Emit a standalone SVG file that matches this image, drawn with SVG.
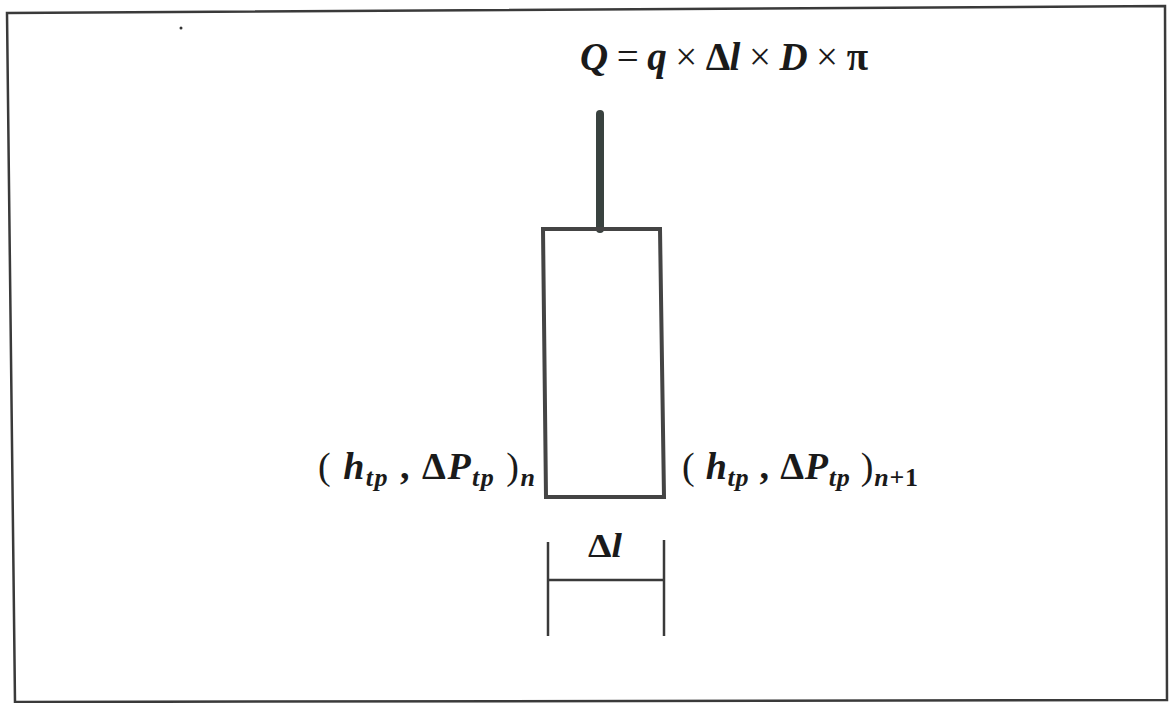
<svg xmlns="http://www.w3.org/2000/svg" width="1174" height="703" viewBox="0 0 1174 703">
<style>
.t{font-family:"Liberation Serif","Times New Roman",serif;fill:#1a1a1a;font-weight:bold}
.i{font-style:italic}
.r{font-weight:normal}
.line{stroke:#3a3a3a;fill:none}
</style>
<rect width="1174" height="703" fill="#ffffff"/>
<g id="frame">
<polygon points="7,13 1165,6 1167,700 15,702" class="line" stroke-width="2.5"/>
<circle cx="181" cy="28" r="1.5" fill="#333"/>
</g>
<g id="connectors">
<line x1="600" y1="114" x2="600" y2="229" stroke="#39423f" stroke-width="8" stroke-linecap="round"/>
<line x1="548" y1="542" x2="548" y2="636" class="line" stroke-width="2.5"/>
<line x1="664" y1="540" x2="664" y2="636" class="line" stroke-width="2.5"/>
<line x1="548" y1="580" x2="664" y2="580" class="line" stroke-width="2.5"/>
</g>
<g id="element">
<polygon points="543,229 660,229 664,497 546,497" stroke="#444" stroke-width="4" fill="none"/>
</g>
<g id="formula">
<text class="t" x="580" y="70" font-size="39" textLength="288" lengthAdjust="spacing"><tspan class="i">Q</tspan><tspan class="r"> = </tspan><tspan class="i">q</tspan><tspan class="r"> × </tspan>Δ<tspan class="i">l</tspan><tspan class="r"> × </tspan><tspan class="i">D</tspan><tspan class="r"> × </tspan>π</text>
</g>
<g id="label-left">
<text class="t" x="318" y="479" font-size="38" textLength="217" lengthAdjust="spacing"><tspan class="r">( </tspan><tspan class="i">h</tspan><tspan class="i" font-size="26" dy="7">tp</tspan><tspan dy="-7"> , Δ</tspan><tspan class="i">P</tspan><tspan class="i" font-size="26" dy="7">tp</tspan><tspan dy="-7" class="r"> )</tspan><tspan class="i" font-size="26" dy="7">n</tspan></text>
</g>
<g id="label-right">
<text class="t" x="682" y="479" font-size="38" textLength="236" lengthAdjust="spacing"><tspan class="r">( </tspan><tspan class="i">h</tspan><tspan class="i" font-size="26" dy="7">tp</tspan><tspan dy="-7"> , Δ</tspan><tspan class="i">P</tspan><tspan class="i" font-size="26" dy="7">tp</tspan><tspan dy="-7" class="r"> )</tspan><tspan class="i" font-size="26" dy="7">n</tspan><tspan font-size="26">+1</tspan></text>
</g>
<g id="dim-label">
<text class="t" x="588" y="557" font-size="34" textLength="34" lengthAdjust="spacingAndGlyphs">Δ<tspan class="i">l</tspan></text>
</g>
</svg>
